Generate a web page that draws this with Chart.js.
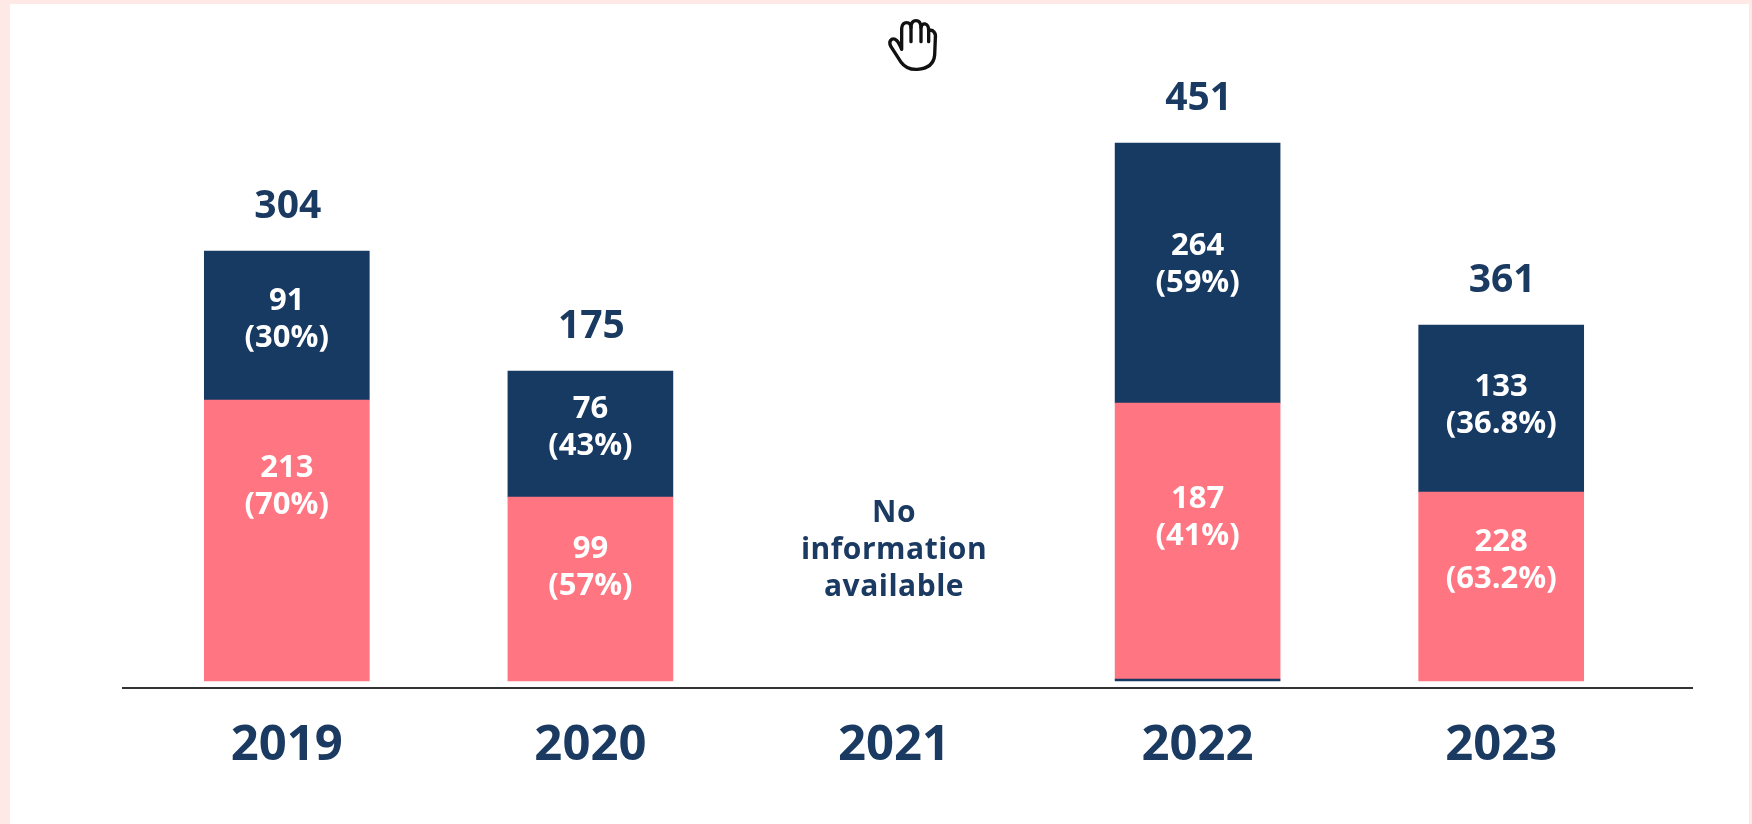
<!DOCTYPE html>
<html>
<head>
<meta charset="utf-8">
<title>Chart</title>
<script src="https://cdn.jsdelivr.net/npm/chart.js@4"></script>
<style>
    html, body { margin: 0; padding: 0; width: 1752px; height: 824px; overflow: hidden; background: #ffe9e7; }
    #panel { position: absolute; left: 10px; top: 4px; width: 1739px; height: 820px; background: #fff; }
    #chart-box { position: absolute; left: 0; top: 0; width: 1752px; height: 824px; }
    #hand { position: absolute; left: 840px; top: 0; width: 120px; height: 90px; }
</style>
</head>
<body>
<div id="panel"></div>
<div id="chart-box"><canvas id="chart"></canvas></div>
<svg id="hand" viewBox="0 0 360 270" fill="#fff" stroke="#111" stroke-width="10" stroke-linejoin="round" stroke-linecap="round">
    <path d="M185 148 V85 Q187 68 200 68 Q212 68 213 82 Q214 62 228 62 Q242 62 243 82 Q246 70 256 72 Q266 75 266 92 Q276 88 282 96 Q288 102 286 115 L284 165 Q280 205 232 208 Q200 210 182 185 L153 140 Q145 125 155 118 Q170 110 185 148 Z"/>
    <path d="M213 82 V125 M243 82 V125 M266 92 V125" fill="none"/>
</svg>
<script>
const categories = ['2019', '2020', '2021', '2022', '2023'];

// Printed figures
const totals = [304, 175, null, 451, 361];
const navyValues = [91, 76, null, 264, 133];
const navyPercents = ['30%', '43%', null, '59%', '36.8%'];
const pinkValues = [213, 99, null, 187, 228];
const pinkPercents = ['70%', '57%', null, '41%', '63.2%'];
const missingNote = ['No', 'information', 'available'];

// Bar heights as drawn in the picture, which are not proportional to the printed figures
const navyHeights = [149, 126, null, 260, 167];
const pinkHeights = [281, 184, null, 276, 189];
const sliverHeights = [null, null, null, 2, null];

const NAVY = '#173a63';
const PINK = '#ff7582';
const TEXT = '#1b3a61';
const FONT = '"Open Sans", sans-serif';

// Label nudges from the segment centre, in px
const navyLabelShift = [-6, -6, 0, -8, -3];
const pinkLabelShift = [-54, -21, 0, -23, -26];

function twoLines(ctx, x, y, first, second) {
    ctx.fillText(first, x, y - 18.5);
    ctx.fillText(second, x, y + 18.5);
}

const barLabels = {
    id: 'barLabels',
    afterDatasetsDraw(chart) {
        const ctx = chart.ctx;
        const pink = chart.getDatasetMeta(1).data;
        const navy = chart.getDatasetMeta(2).data;
        ctx.save();
        ctx.textAlign = 'center';
        ctx.textBaseline = 'middle';

        categories.forEach((cat, i) => {
            if (totals[i] === null) return;
            ctx.font = `700 31px ${FONT}`;
            ctx.fillStyle = '#fff';
            twoLines(ctx, navy[i].x, (navy[i].y + navy[i].base) / 2 + navyLabelShift[i], `${navyValues[i]}`, `(${navyPercents[i]})`);
            twoLines(ctx, pink[i].x, (pink[i].y + pink[i].base) / 2 + pinkLabelShift[i], `${pinkValues[i]}`, `(${pinkPercents[i]})`);
            ctx.font = `700 39px ${FONT}`;
            ctx.fillStyle = TEXT;
            ctx.fillText(`${totals[i]}`, navy[i].x + 1, navy[i].y - 44);
        });

        // 2021 has no bars, just the note
        const noteX = chart.scales.x.getPixelForValue(2);
        ctx.font = `700 30px ${FONT}`;
        ctx.letterSpacing = '0.5px';
        ctx.fillStyle = TEXT;
        missingNote.forEach((line, n) => ctx.fillText(line, noteX, 513 + n * 37));
        ctx.letterSpacing = '0px';

        // Baseline runs past the plot area on both sides
        ctx.strokeStyle = '#333';
        ctx.lineWidth = 2;
        ctx.beginPath();
        ctx.moveTo(122, chart.chartArea.bottom);
        ctx.lineTo(1693, chart.chartArea.bottom);
        ctx.stroke();
        ctx.restore();
    }
};

new Chart(document.getElementById('chart').getContext('2d'), {
    type: 'bar',
    data: {
        labels: categories,
        datasets: [
            { label: 'Sliver', data: sliverHeights, backgroundColor: NAVY },
            { label: 'Pink', data: pinkHeights, backgroundColor: PINK },
            { label: 'Navy', data: navyHeights, backgroundColor: NAVY }
        ]
    },
    options: {
        responsive: true,
        maintainAspectRatio: false,
        animation: false,
        layout: { padding: { left: 135, right: 99, top: 0, bottom: 0 } },
        datasets: { bar: { barThickness: 165, borderWidth: 0 } },
        plugins: {
            legend: { display: false },
            tooltip: { enabled: false }
        },
        scales: {
            x: {
                stacked: true,
                grid: { display: false },
                border: { display: false },
                afterFit: (scale) => { scale.height = 136; },
                ticks: {
                    color: TEXT,
                    padding: 21,
                    maxRotation: 0,
                    font: { family: FONT, size: 49, weight: '700' }
                }
            },
            y: {
                stacked: true,
                display: false,
                min: -7,
                max: 681
            }
        }
    },
    plugins: [barLabels]
});
</script>
</body>
</html>
